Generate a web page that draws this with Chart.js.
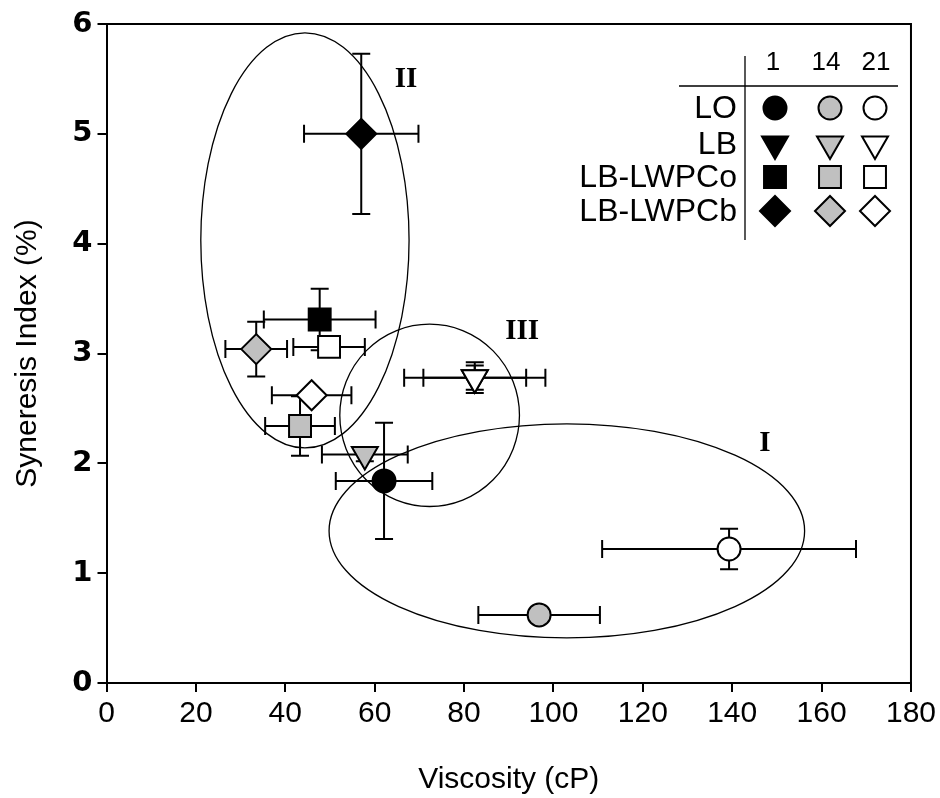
<!DOCTYPE html>
<html>
<head>
<meta charset="utf-8">
<title>Syneresis index vs viscosity</title>
<script src="https://cdn.jsdelivr.net/npm/chart.js@4.4.1/dist/chart.umd.min.js"></script>
<style>
  html, body { margin: 0; padding: 0; background: #ffffff; }
  canvas { display: block; }
</style>
</head>
<body>
<canvas id="chart" width="940" height="798"></canvas>
<script>
// Storage days and sample groups
const days = ['1', '14', '21'];
const groups = ['LO', 'LB', 'LB-LWPCo', 'LB-LWPCb'];

// Viscosity (cP) per group, days 1 / 14 / 21, with SD
const viscLO = [62.1, 96.8, 139.3];
const viscLB = [82.4, 57.8, 82.4];
const viscLWPCo = [47.7, 43.3, 49.8];
const viscLWPCb = [57.0, 33.5, 45.9];
const viscSdLO = [10.8, 13.6, 28.4];
const viscSdLB = [11.5, 9.6, 15.8];
const viscSdLWPCo = [12.5, 7.8, 8.0];
const viscSdLWPCb = [12.8, 6.9, 8.9];

// Syneresis index (%) per group, days 1 / 14 / 21, with SD
const synLO = [1.84, 0.62, 1.22];
const synLB = [2.78, 2.08, 2.78];
const synLWPCo = [3.31, 2.34, 3.06];
const synLWPCb = [5.00, 3.04, 2.62];
const synSdLO = [0.53, 0.05, 0.185];
const synSdLB = [0.11, 0.06, 0.14];
const synSdLWPCo = [0.28, 0.27, 0.04];
const synSdLWPCb = [0.73, 0.25, 0.04];

// Axis ticks
const xTickValues = [0, 20, 40, 60, 80, 100, 120, 140, 160, 180];
const yTickValues = [0, 1, 2, 3, 4, 5, 6];

// Cluster outlines (centre and half-axes in axis units) and their labels
const clusterNames = ['I', 'II', 'III'];
const clusterCx = [103.0, 44.4, 72.3];
const clusterCy = [1.385, 4.03, 2.437];
const clusterRx = [53.2, 23.3, 20.1];
const clusterRy = [0.975, 1.89, 0.83];
const clusterLabelX = [147.3, 67.0, 93.0];
const clusterLabelY = [2.18, 5.49, 3.2];

const visc = [viscLO, viscLB, viscLWPCo, viscLWPCb];
const viscSd = [viscSdLO, viscSdLB, viscSdLWPCo, viscSdLWPCb];
const syn = [synLO, synLB, synLWPCo, synLWPCb];
const synSd = [synSdLO, synSdLB, synSdLWPCo, synSdLWPCb];

// Marker shape per group, fill per day
const shapes = ['circle', 'triangle', 'rect', 'rectRot'];
const rotations = [0, 180, 0, 0];
const radii = [11.5, 15, 15.5, 15];
const fills = ['#000000', '#c0c0c0', '#ffffff'];

const SANS = '"Liberation Sans", Arial, Helvetica, sans-serif';

const datasets = [];
groups.forEach((g, gi) => {
  days.forEach((d, di) => {
    datasets.push({
      label: g + ' (day ' + d + ')',
      data: [{ x: visc[gi][di], y: syn[gi][di] }],
      xErr: viscSd[gi][di],
      yErr: synSd[gi][di],
      pointStyle: shapes[gi],
      rotation: rotations[gi],
      pointRadius: radii[gi],
      pointHoverRadius: radii[gi],
      pointBackgroundColor: fills[di],
      pointBorderColor: '#000000',
      pointBorderWidth: 2,
      pointHoverBorderWidth: 2,
      order: 3 - di
    });
  });
});

function markerPath(ctx, style, r, rot, x, y) {
  ctx.beginPath();
  if (style === 'circle') {
    ctx.arc(x, y, r, 0, Math.PI * 2);
  } else if (style === 'triangle') {
    let a = rot * Math.PI / 180;
    ctx.moveTo(x + Math.sin(a) * r, y - Math.cos(a) * r);
    for (let k = 0; k < 2; k++) {
      a += Math.PI * 2 / 3;
      ctx.lineTo(x + Math.sin(a) * r, y - Math.cos(a) * r);
    }
    ctx.closePath();
  } else if (style === 'rect') {
    const s = r * Math.SQRT1_2;
    ctx.rect(x - s, y - s, 2 * s, 2 * s);
  } else {
    ctx.moveTo(x - r, y);
    ctx.lineTo(x, y + r);
    ctx.lineTo(x + r, y);
    ctx.lineTo(x, y - r);
    ctx.closePath();
  }
}

// Horizontal and vertical SD bars, drawn under the markers
const errorBars = {
  id: 'errorBars',
  beforeDatasetsDraw(chart) {
    const { ctx } = chart;
    const xs = chart.scales.x, ys = chart.scales.y;
    const cap = 9;
    ctx.save();
    ctx.strokeStyle = '#000000';
    ctx.lineWidth = 2;
    chart.data.datasets.forEach(ds => {
      const p = ds.data[0];
      const px = xs.getPixelForValue(p.x);
      const py = ys.getPixelForValue(p.y);
      const xl = xs.getPixelForValue(p.x - ds.xErr);
      const xr = xs.getPixelForValue(p.x + ds.xErr);
      const yb = ys.getPixelForValue(p.y - ds.yErr);
      const yt = ys.getPixelForValue(p.y + ds.yErr);
      ctx.beginPath();
      ctx.moveTo(xl, py); ctx.lineTo(xr, py);
      ctx.moveTo(xl, py - cap); ctx.lineTo(xl, py + cap);
      ctx.moveTo(xr, py - cap); ctx.lineTo(xr, py + cap);
      ctx.moveTo(px, yb); ctx.lineTo(px, yt);
      ctx.moveTo(px - cap, yb); ctx.lineTo(px + cap, yb);
      ctx.moveTo(px - cap, yt); ctx.lineTo(px + cap, yt);
      ctx.stroke();
    });
    ctx.restore();
  }
};

// Cluster ellipses and Roman numeral labels
const clusters = {
  id: 'clusters',
  afterDatasetsDraw(chart) {
    const { ctx } = chart;
    const xs = chart.scales.x, ys = chart.scales.y;
    ctx.save();
    ctx.strokeStyle = '#000000';
    ctx.lineWidth = 1.3;
    clusterNames.forEach((name, i) => {
      const cx = xs.getPixelForValue(clusterCx[i]);
      const cy = ys.getPixelForValue(clusterCy[i]);
      const rx = Math.abs(xs.getPixelForValue(clusterCx[i] + clusterRx[i]) - cx);
      const ry = Math.abs(ys.getPixelForValue(clusterCy[i] + clusterRy[i]) - cy);
      ctx.beginPath();
      ctx.ellipse(cx, cy, rx, ry, 0, 0, Math.PI * 2);
      ctx.stroke();
    });
    ctx.fillStyle = '#000000';
    ctx.font = 'bold 29px "Liberation Serif", "Times New Roman", serif';
    ctx.textAlign = 'center';
    ctx.textBaseline = 'middle';
    clusterNames.forEach((name, i) => {
      ctx.fillText(name, xs.getPixelForValue(clusterLabelX[i]), ys.getPixelForValue(clusterLabelY[i]));
    });
    ctx.restore();
  }
};

// Top/right frame and the day-by-group symbol key
const frameAndKey = {
  id: 'frameAndKey',
  afterDraw(chart) {
    const { ctx, chartArea: a } = chart;
    ctx.save();
    ctx.strokeStyle = '#000000';
    ctx.lineWidth = 2;
    ctx.beginPath();
    ctx.moveTo(a.left, a.top);
    ctx.lineTo(a.right, a.top);
    ctx.lineTo(a.right, a.bottom);
    ctx.stroke();

    // key table
    const colX = [775, 830, 875];
    const rowY = [108, 144, 177, 211];
    const headY = 63;
    const divX = 745;
    ctx.lineWidth = 1.3;
    ctx.beginPath();
    ctx.moveTo(679, 86); ctx.lineTo(898, 86);
    ctx.moveTo(divX, 56); ctx.lineTo(divX, 240);
    ctx.stroke();

    ctx.fillStyle = '#000000';
    ctx.textBaseline = 'middle';
    ctx.font = '26px ' + SANS;
    ctx.textAlign = 'center';
    const headOffsets = [-2, -4, 1];
    days.forEach((d, di) => ctx.fillText(d, colX[di] + headOffsets[di], headY));

    ctx.font = '32px ' + SANS;
    ctx.textAlign = 'right';
    groups.forEach((g, gi) => ctx.fillText(g, 737, rowY[gi] + 1));

    ctx.lineWidth = 2;
    groups.forEach((g, gi) => {
      days.forEach((d, di) => {
        markerPath(ctx, shapes[gi], radii[gi], rotations[gi], colX[di], rowY[gi]);
        ctx.fillStyle = fills[di];
        ctx.fill();
        ctx.strokeStyle = '#000000';
        ctx.stroke();
      });
    });
    ctx.restore();
  }
};

new Chart(document.getElementById('chart'), {
  type: 'scatter',
  data: { datasets },
  plugins: [errorBars, clusters, frameAndKey],
  options: {
    responsive: false,
    animation: false,
    devicePixelRatio: 1,
    events: [],
    layout: { padding: { top: 24, right: 29, left: 0, bottom: 0 } },
    plugins: {
      legend: { display: false },
      tooltip: { enabled: false }
    },
    scales: {
      x: {
        type: 'linear',
        min: 0,
        max: 180,
        afterBuildTicks: s => { s.ticks = xTickValues.map(v => ({ value: v })); },
        afterFit: s => { s.height = 115; },
        border: { display: true, color: '#000000', width: 2 },
        grid: { display: true, drawOnChartArea: false, drawTicks: true, tickLength: 9, color: '#000000', lineWidth: 2 },
        ticks: { color: '#000000', font: { family: SANS, size: 30 }, padding: 4, maxRotation: 0, autoSkip: false },
        title: { display: true, text: 'Viscosity (cP)', color: '#000000', font: { family: SANS, size: 30 }, padding: { top: -3, bottom: 0 } }
      },
      y: {
        type: 'linear',
        min: 0,
        max: 6,
        afterBuildTicks: s => { s.ticks = yTickValues.map(v => ({ value: v })); },
        afterFit: s => { s.width = 106.5; },
        border: { display: true, color: '#000000', width: 2 },
        grid: { display: true, drawOnChartArea: false, drawTicks: true, tickLength: 9, color: '#000000', lineWidth: 2 },
        ticks: { color: '#000000', font: { family: '"DejaVu Sans", sans-serif', size: 29, weight: 'bold' }, padding: 5, autoSkip: false },
        title: { display: true, text: 'Syneresis Index (%)', color: '#000000', font: { family: SANS, size: 30 }, padding: { top: 10, bottom: 0 } }
      }
    }
  }
});
</script>
</body>
</html>
